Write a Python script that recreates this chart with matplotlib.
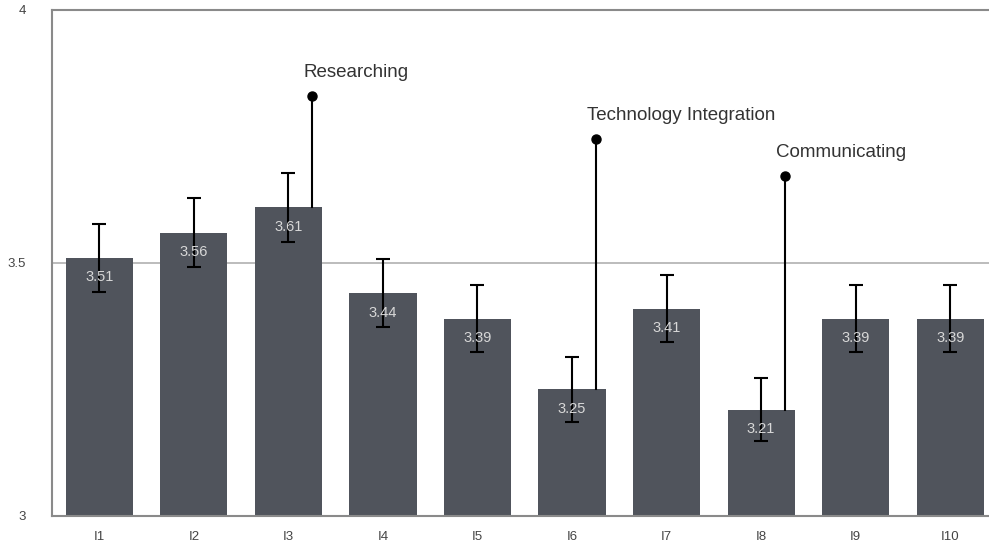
import matplotlib
matplotlib.use('Agg')
import matplotlib.pyplot as plt
import numpy as np

items = ['I1', 'I2', 'I3', 'I4', 'I5', 'I6', 'I7', 'I8', 'I9', 'I10']
means = [3.51, 3.56, 3.61, 3.44, 3.39, 3.25, 3.41, 3.21, 3.39, 3.39]
errors = [0.067, 0.068, 0.068, 0.067, 0.066, 0.064, 0.066, 0.062, 0.066, 0.066]

# callouts: (bar index, dot height, label)
callout_idx = [2, 5, 7]
callout_top = [3.83, 3.745, 3.672]
callout_text = ['Researching', 'Technology Integration', 'Communicating']

plt.rcParams['font.family'] = ['Liberation Sans', 'DejaVu Sans']

fig = plt.figure(figsize=(9.89, 5.46), dpi=100)
ax = fig.add_axes([0.0526, 0.055, 0.9474, 0.9267])

x = np.arange(len(items))
ax.axhline(3.5, color='#b0b0b0', linewidth=1.2, zorder=0)
ax.bar(x, [m - 3 for m in means], bottom=3, width=0.71, color='#50545c', zorder=2)
ax.errorbar(x, means, yerr=errors, fmt='none', ecolor='black', elinewidth=1.5,
            capsize=4.7, capthick=1.5, zorder=3)

for xi, m in zip(x, means):
    ax.annotate(f'{m:.2f}', (xi, m), xytext=(0, -14), textcoords='offset points',
                ha='center', va='center', color='#d8d8d8', fontsize=10.5, zorder=4)

for i, top, label in zip(callout_idx, callout_top, callout_text):
    lx = i + 0.25
    ax.plot([lx, lx], [means[i], top], color='black', linewidth=1.5, zorder=3)
    ax.plot(lx, top, 'o', color='black', markersize=6.5, zorder=4)
    ax.annotate(label, (lx, top), xytext=(-6, 11), textcoords='offset points',
                ha='left', va='bottom', color='#333333', fontsize=13.5)

ax.set_xlim(-0.5, 9.41)
ax.set_ylim(3, 4)
ax.set_yticks([3, 3.5, 4])
ax.set_yticklabels(['3', '3.5', '4'])
ax.set_xticks(x)
ax.set_xticklabels(items)
ax.tick_params(axis='both', length=0, labelsize=9.5, colors='#444444')
ax.tick_params(axis='y', pad=19)
ax.tick_params(axis='x', pad=11)

for side in ['left', 'bottom', 'top']:
    ax.spines[side].set_color('#8a8a8a')
    ax.spines[side].set_linewidth(1.5)
ax.spines['right'].set_visible(False)

plt.savefig('out.png', dpi=100)
plt.close()
